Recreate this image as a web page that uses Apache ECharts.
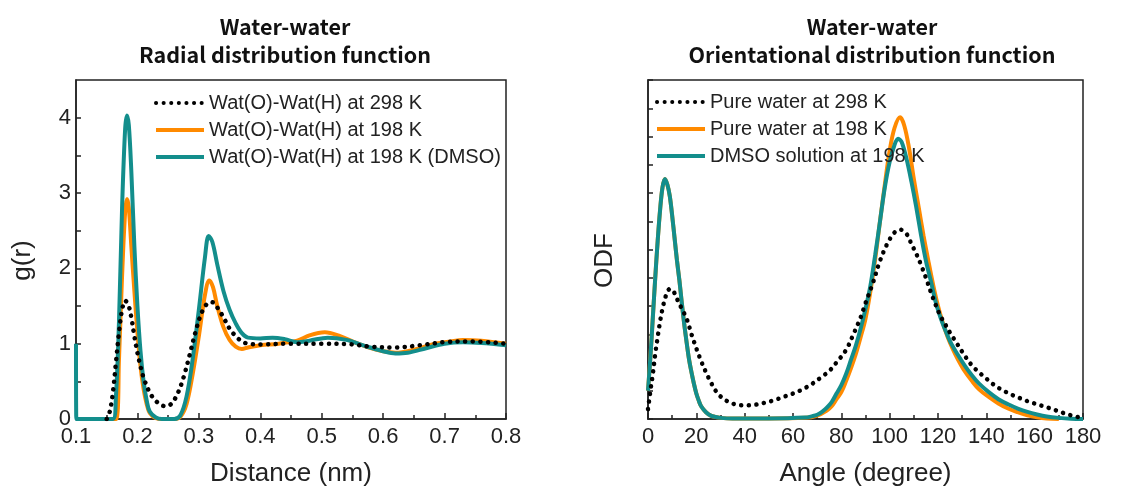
<!DOCTYPE html>
<html>
<head>
<meta charset="utf-8">
<script src="https://cdn.jsdelivr.net/npm/echarts@6/dist/echarts.min.js"></script>
<style>
  html, body { margin: 0; padding: 0; background: #fff; }
  #main { width: 1134px; height: 494px; }
</style>
</head>
<body>
<div id="main"></div>
<script>
// Left panel: water-water RDF, [distance nm, g(r)]
var rdf298 = [[0.15,0],[0.155,0.1],[0.16,0.35],[0.165,0.75],[0.17,1.15],[0.175,1.45],[0.18,1.57],[0.185,1.52],[0.19,1.35],[0.195,1.1],[0.2,0.88],[0.205,0.7],[0.21,0.55],[0.22,0.35],[0.23,0.24],[0.24,0.18],[0.247,0.17],[0.255,0.2],[0.265,0.33],[0.275,0.55],[0.285,0.85],[0.295,1.17],[0.305,1.42],[0.315,1.54],[0.322,1.55],[0.33,1.48],[0.34,1.35],[0.35,1.2],[0.36,1.1],[0.37,1.03],[0.38,1.0],[0.4,0.99],[0.45,1.0],[0.5,1.0],[0.55,0.99],[0.58,0.96],[0.62,0.95],[0.66,0.98],[0.7,1.02],[0.74,1.03],[0.8,1.0]];
var rdf198 = [[0.1,0],[0.165,0],[0.17,0.8],[0.175,1.9],[0.18,2.75],[0.183,2.92],[0.186,2.8],[0.19,2.3],[0.195,1.7],[0.2,1.15],[0.205,0.7],[0.21,0.4],[0.215,0.2],[0.22,0.08],[0.23,0.01],[0.24,0],[0.26,0],[0.27,0.03],[0.28,0.2],[0.29,0.6],[0.3,1.1],[0.31,1.65],[0.317,1.84],[0.323,1.75],[0.33,1.5],[0.34,1.22],[0.35,1.05],[0.36,0.96],[0.37,0.93],[0.38,0.95],[0.4,0.98],[0.43,1.0],[0.46,1.04],[0.48,1.11],[0.505,1.15],[0.53,1.1],[0.55,1.03],[0.58,0.94],[0.6,0.9],[0.62,0.88],[0.65,0.92],[0.68,0.99],[0.71,1.03],[0.73,1.05],[0.76,1.04],[0.8,1.0]];
var rdf198dmso = [[0.1,1.0],[0.1005,0],[0.16,0],[0.165,0.3],[0.17,1.3],[0.175,2.8],[0.18,3.85],[0.183,4.03],[0.186,3.9],[0.19,3.3],[0.195,2.3],[0.2,1.5],[0.205,0.9],[0.21,0.5],[0.215,0.25],[0.22,0.1],[0.23,0.02],[0.24,0],[0.26,0],[0.27,0.05],[0.28,0.3],[0.29,0.8],[0.3,1.45],[0.31,2.15],[0.316,2.43],[0.322,2.35],[0.33,2.05],[0.34,1.7],[0.35,1.45],[0.36,1.27],[0.37,1.14],[0.38,1.08],[0.4,1.07],[0.42,1.08],[0.44,1.06],[0.46,1.02],[0.48,1.04],[0.51,1.08],[0.54,1.05],[0.57,0.97],[0.6,0.9],[0.62,0.87],[0.64,0.88],[0.67,0.94],[0.7,1.0],[0.73,1.02],[0.76,1.01],[0.8,0.98]];

// Right panel: water-water ODF, [angle deg, ODF]
var odf298 = [[0,0.35],[1,1.0],[2,1.6],[3,2.3],[4,2.9],[5,3.45],[6,3.9],[7,4.25],[8,4.5],[9,4.6],[10,4.58],[11,4.45],[12,4.25],[14,3.9],[16,3.55],[18,3.0],[20,2.5],[22,2.05],[24,1.65],[26,1.3],[28,1.0],[30,0.8],[33,0.62],[36,0.52],[40,0.48],[44,0.5],[48,0.57],[52,0.66],[56,0.78],[60,0.9],[64,1.05],[68,1.25],[72,1.5],[75,1.7],[78,2.0],[82,2.45],[85,3.0],[88,3.6],[90,4.1],[93,4.8],[96,5.6],[99,6.2],[102,6.6],[104.5,6.7],[107,6.55],[109,6.2],[111,5.85],[113,5.45],[115,5.0],[117,4.5],[119,4.05],[121,3.65],[123,3.35],[125,3.05],[128,2.65],[131,2.25],[134,1.9],[137,1.65],[140,1.43],[143,1.22],[146,1.05],[149,0.92],[152,0.8],[155,0.7],[158,0.6],[161,0.52],[164,0.44],[167,0.36],[170,0.27],[173,0.18],[176,0.11],[179,0.05]];
var odf198 = [[0,1.0],[1,2.2],[2,3.6],[3,5.0],[4,6.3],[5,7.4],[6,8.2],[7,8.5],[8,8.3],[9,7.9],[10,7.2],[11,6.4],[12,5.6],[13,4.9],[14,4.1],[15,3.35],[16,2.7],[17,2.1],[18,1.65],[19,1.25],[20,0.9],[21,0.65],[22,0.45],[24,0.24],[26,0.12],[28,0.07],[30,0.04],[35,0.02],[50,0.02],[65,0.04],[70,0.12],[74,0.3],[76,0.45],[78,0.7],[80,0.95],[82,1.35],[84,1.8],[86,2.3],[88,2.9],[90,3.55],[92,4.5],[94,5.65],[96,7.0],[98,8.3],[100,9.5],[102,10.3],[104.3,10.68],[106,10.4],[108,9.6],[110,8.5],[112,7.5],[114,6.5],[116,5.6],[118,4.75],[120,4.0],[122,3.4],[124,2.9],[126,2.5],[128,2.15],[131,1.7],[134,1.35],[137,1.05],[141,0.78],[145,0.55],[149,0.37],[153,0.24],[157,0.13],[161,0.06],[165,0.02],[170,0]];
var odf198dmso = [[0,1.0],[1,2.2],[2,3.6],[3,5.0],[4,6.3],[5,7.4],[6,8.2],[7,8.5],[8,8.3],[9,7.9],[10,7.2],[11,6.4],[12,5.6],[13,4.9],[14,4.1],[15,3.35],[16,2.7],[17,2.1],[18,1.65],[19,1.25],[20,0.9],[21,0.65],[22,0.45],[24,0.24],[26,0.12],[28,0.07],[30,0.04],[35,0.02],[50,0.02],[65,0.05],[68,0.1],[70,0.15],[72,0.25],[74,0.4],[76,0.6],[78,0.9],[80,1.2],[82,1.6],[84,2.1],[86,2.6],[88,3.2],[90,3.9],[92,4.7],[94,5.8],[96,7.0],[98,8.2],[100,9.1],[102,9.7],[103.5,9.92],[105,9.8],[107,9.2],[109,8.4],[111,7.5],[113,6.5],[115,5.6],[117,4.9],[119,4.15],[121,3.6],[123,3.15],[125,2.75],[128,2.3],[131,1.9],[134,1.55],[137,1.25],[141,0.95],[145,0.7],[149,0.52],[153,0.37],[157,0.25],[161,0.16],[165,0.09],[170,0.04],[175,0.01],[180,0]];

var rdfNames = ['Wat(O)-Wat(H) at 298 K', 'Wat(O)-Wat(H) at 198 K', 'Wat(O)-Wat(H) at 198 K (DMSO)'];
var odfNames = ['Pure water at 298 K', 'Pure water at 198 K', 'DMSO solution at 198 K'];

var ORANGE = '#ff8a00';
var TEAL = '#138e8c';
var INK = '#222';
var SANS = 'Liberation Sans, Arial, sans-serif';
var TITLE_FONT = 'Noto Sans CJK KR, sans-serif';

var myChart = echarts.init(document.getElementById('main'), null, { renderer: 'canvas' });

function dotted() {
  return { color: '#000', width: 4.5, type: [0.1, 7.5], cap: 'round' };
}
function solid(c) {
  return { color: c, width: 4 };
}
function mk(name, data, axis, ls, z) {
  return {
    name: name, type: 'line', data: data,
    xAxisIndex: axis, yAxisIndex: axis,
    showSymbol: false, symbol: 'none', smooth: 0.35,
    lineStyle: ls, itemStyle: { color: ls.color }, z: z,
    animation: false
  };
}
function xAx(idx, min, max, step, fmt, name) {
  return {
    gridIndex: idx, type: 'value', min: min, max: max, interval: step,
    name: name, nameLocation: 'middle', nameGap: 42,
    nameTextStyle: { fontSize: 26, color: INK, fontFamily: SANS },
    axisLine: { show: true, lineStyle: { color: INK, width: 1.5 } },
    axisTick: { inside: true, length: 6, lineStyle: { color: INK, width: 1.5 } },
    minorTick: { show: true, splitNumber: 2, length: 4, lineStyle: { color: INK, width: 1.5 } },
    axisLabel: { fontSize: 22, color: INK, fontFamily: SANS, margin: 7, formatter: fmt },
    splitLine: { show: false }
  };
}
// legend keeps the series line but hides the marker dot
function legendAt(names, left, top) {
  return {
    data: names, orient: 'vertical', left: left, top: top, padding: 0,
    itemWidth: 48, itemHeight: 14, itemGap: 7,
    itemStyle: { opacity: 0 },
    lineStyle: { width: 4 },
    textStyle: { fontSize: 20, color: INK, fontFamily: SANS }
  };
}

var option = {
  backgroundColor: '#fff',
  title: [
    { text: 'Water-water\nRadial distribution function', left: 280, top: 8, textAlign: 'center',
      textStyle: { fontSize: 21.5, fontWeight: 'bold', color: '#111', fontFamily: TITLE_FONT, lineHeight: 28 } },
    { text: 'Water-water\nOrientational distribution function', left: 867, top: 8, textAlign: 'center',
      textStyle: { fontSize: 21.5, fontWeight: 'bold', color: '#111', fontFamily: TITLE_FONT, lineHeight: 28 } }
  ],
  legend: [
    legendAt(rdfNames, 154, 93),
    legendAt(odfNames, 655, 92)
  ],
  grid: [
    { left: 76, top: 80, width: 430, height: 339, show: true, borderColor: INK, borderWidth: 1.5 },
    { left: 648, top: 80, width: 435, height: 339, show: true, borderColor: INK, borderWidth: 1.5 }
  ],
  xAxis: [
    xAx(0, 0.1, 0.8, 0.1, function (v) { return v.toFixed(1); }, 'Distance (nm)'),
    xAx(1, 0, 180, 20, null, 'Angle (degree)')
  ],
  yAxis: [
    {
      gridIndex: 0, type: 'value', min: 0, max: 4.5, interval: 0.5,
      name: 'g(r)', nameLocation: 'middle', nameGap: 40,
      nameTextStyle: { fontSize: 26, color: INK, fontFamily: SANS, padding: [0, 22, 0, 0] },
      axisLine: { show: true, lineStyle: { color: INK, width: 1.5 } },
      axisTick: { inside: true, length: 5, lineStyle: { color: INK, width: 1.5 } },
      axisLabel: { fontSize: 22, color: INK, fontFamily: SANS, margin: 5, showMaxLabel: false,
        formatter: function (v) { return v % 1 === 0 ? String(v) : ''; } },
      splitLine: { show: false }
    },
    {
      gridIndex: 1, type: 'value', min: 0, max: 12, interval: 1,
      name: 'ODF', nameLocation: 'middle', nameGap: 30,
      nameTextStyle: { fontSize: 26, color: INK, fontFamily: SANS, padding: [0, 22, 0, 0] },
      axisLine: { show: true, lineStyle: { color: INK, width: 1.5 } },
      axisTick: { inside: true, length: 5, lineStyle: { color: INK, width: 1.5 } },
      axisLabel: { show: false },
      splitLine: { show: false }
    }
  ],
  series: [
    mk(rdfNames[0], rdf298, 0, dotted(), 4),
    mk(rdfNames[1], rdf198, 0, solid(ORANGE), 2),
    mk(rdfNames[2], rdf198dmso, 0, solid(TEAL), 3),
    mk(odfNames[0], odf298, 1, dotted(), 4),
    mk(odfNames[1], odf198, 1, solid(ORANGE), 2),
    mk(odfNames[2], odf198dmso, 1, solid(TEAL), 3)
  ]
};

myChart.setOption(option);
</script>
</body>
</html>
